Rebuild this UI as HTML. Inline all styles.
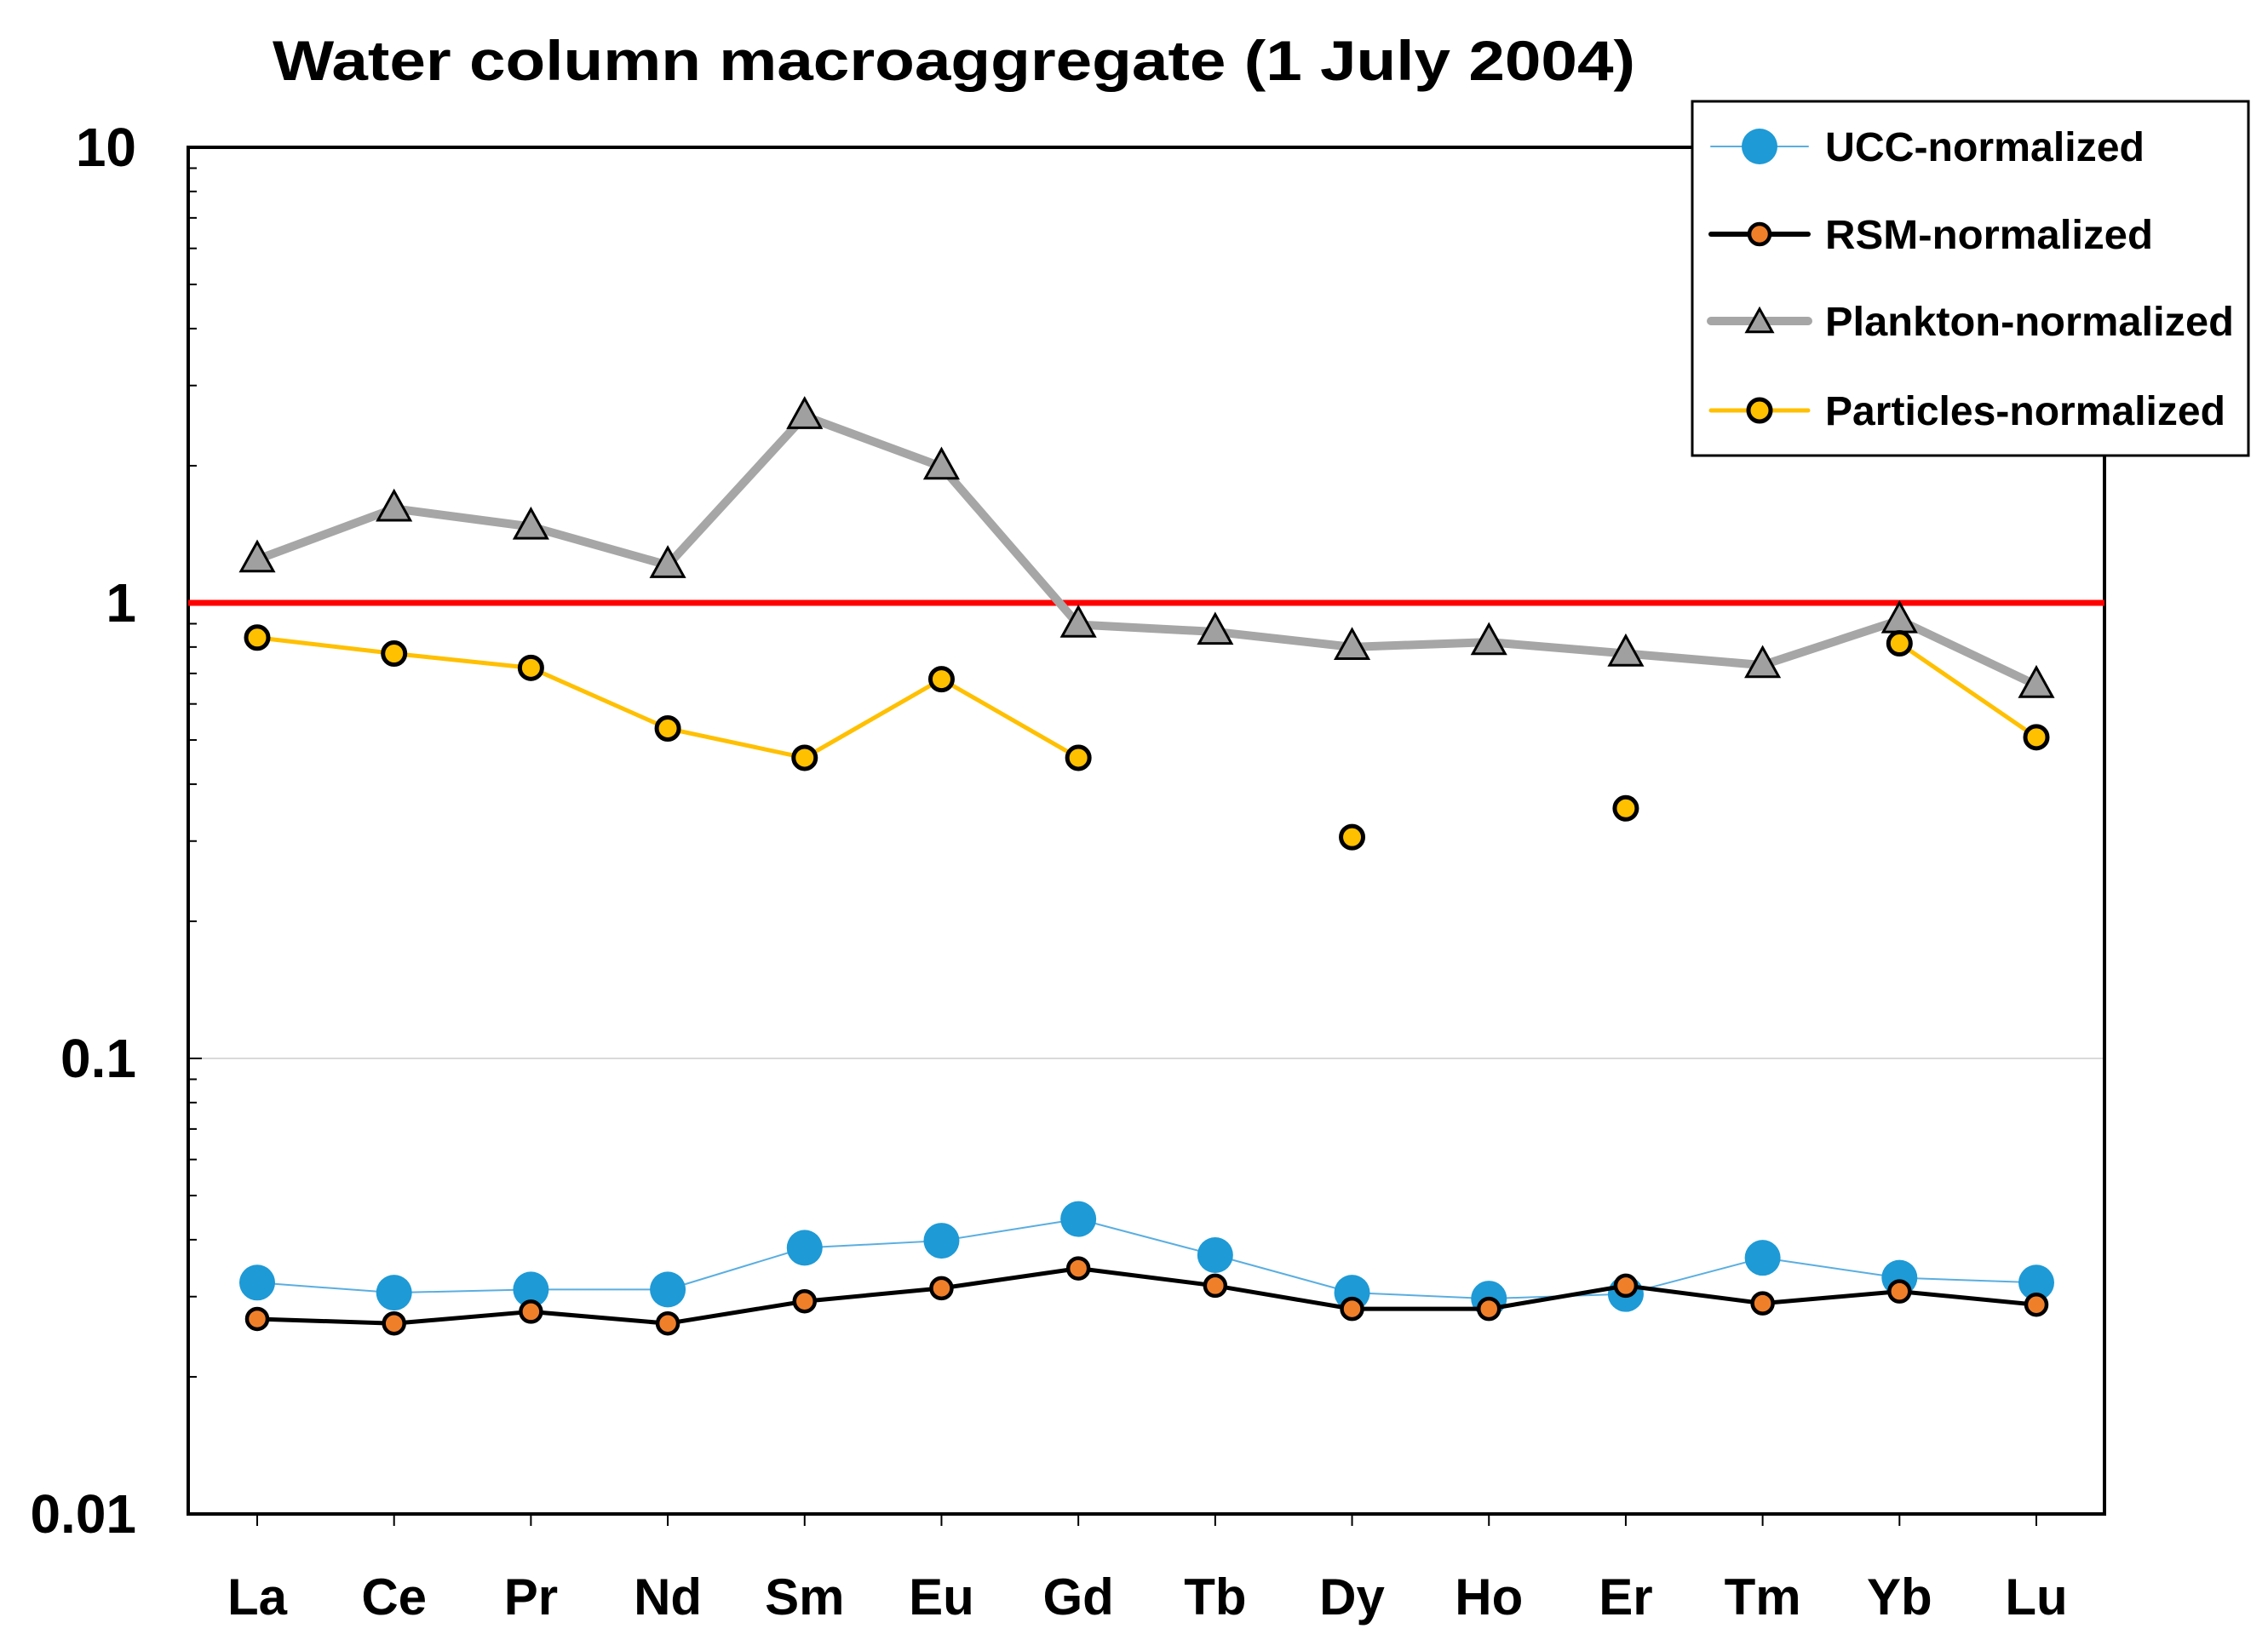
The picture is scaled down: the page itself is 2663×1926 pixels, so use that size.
<!DOCTYPE html>
<html><head><meta charset="utf-8"><style>
html,body{margin:0;padding:0;background:#fff}
svg{display:block;font-family:"Liberation Sans",sans-serif;font-weight:bold}
</style></head><body>
<svg id="chart" width="2663" height="1926" viewBox="0 0 2663 1926" xmlns="http://www.w3.org/2000/svg">
<text x="320" y="94" font-size="66" textLength="1600" lengthAdjust="spacingAndGlyphs">Water column macroaggregate   (1 July 2004)</text>
<g id="plot"></g>
<g id="legend">
<rect x="1987" y="119" width="653" height="416" fill="#fff" stroke="#000" stroke-width="3"/>
</g>
</svg>
<script>
const categories=["La","Ce","Pr","Nd","Sm","Eu","Gd","Tb","Dy","Ho","Er","Tm","Yb","Lu"];
const uccValues=[0.0322,0.0306,0.0311,0.0311,0.0384,0.0398,0.0444,0.037,0.0306,0.0297,0.0304,0.0365,0.033,0.0322];
const rsmValues=[0.0268,0.0262,0.0278,0.0262,0.0293,0.0313,0.0346,0.0317,0.0282,0.0282,0.0317,0.029,0.0308,0.0288];
const planktonValues=[1.245,1.61,1.47,1.21,2.57,1.99,0.896,0.864,0.80,0.82,0.774,0.73,0.916,0.66];
const particlesValues=[0.839,0.774,0.72,0.53,0.457,0.68,0.457,null,0.306,null,0.354,null,0.815,0.507];
const yTickValues=[10,1,0.1,0.01];
const yTickLabels=["10","1","0.1","0.01"];

const NS="http://www.w3.org/2000/svg";
const L=221,T=173,R=2471,B=1778;
const x0=302,xStep=(2391-302)/13;
function xs(i){return x0+i*xStep;}
function ys(v){return B-(Math.log10(v)+2)/3*(B-T);}
const plot=document.getElementById('plot');
function mk(tag,attrs,parent){const e=document.createElementNS(NS,tag);for(const k in attrs)e.setAttribute(k,attrs[k]);(parent||plot).appendChild(e);return e;}

let g=mk('line',{x1:L,x2:R,y1:ys(0.1),y2:ys(0.1),stroke:'#d9d9d9','stroke-width':2});


let fr=mk('rect',{x:L,y:T,width:R-L,height:B-T,fill:'none',stroke:'#000','stroke-width':4});


for(let d=-2;d<1;d++){for(let m=1;m<10;m++){const v=m*Math.pow(10,d);const y=ys(v);
 const t=mk('line',{x1:L,x2:L+(m==1?16:10),y1:y,y2:y,stroke:'#000','stroke-width':2});
 
 }}
yTickValues.forEach((v,i)=>{const t=mk('text',{x:160,y:ys(v)+22,'font-size':64,'text-anchor':'end'});t.textContent=yTickLabels[i];
 
 });
categories.forEach((c,i)=>{const t=mk('line',{x1:xs(i),x2:xs(i),y1:B,y2:B+14,stroke:'#000','stroke-width':2});
 
 
 const l=mk('text',{x:xs(i),y:1896,'font-size':60,'text-anchor':'middle'});l.textContent=c;
 
 });
let rl=mk('line',{x1:L,x2:R,y1:ys(1),y2:ys(1),stroke:'#ff0000','stroke-width':7});



function drawLine(vals,color,w,name){let seg=[];const segs=[];vals.forEach((v,i)=>{if(v==null){if(seg.length)segs.push(seg);seg=[];}else seg.push([xs(i),ys(v)]);});if(seg.length)segs.push(seg);
 segs.forEach(s=>{if(s.length<2)return;const p=mk('polyline',{points:s.map(q=>q.join(',')).join(' '),fill:'none',stroke:color,'stroke-width':w,'stroke-linejoin':'round'});
 
 });}
function circ(cx,cy,r,fill,stroke,sw,name,parent){const c=mk('circle',{cx:cx,cy:cy,r:r,fill:fill,stroke:stroke,'stroke-width':sw},parent);
 
 return c;}
function tri(cx,cy,s,name,parent){const h=s*0.9;const p=mk('polygon',{points:`${cx},${cy-h*0.6} ${cx-s/2},${cy+h*0.4} ${cx+s/2},${cy+h*0.4}`,fill:'#a0a0a0',stroke:'#000','stroke-width':3,'stroke-linejoin':'miter'},parent);
 
 }

drawLine(planktonValues,'#a6a6a6',10,'plankton');
planktonValues.forEach((v,i)=>{if(v!=null)tri(xs(i),ys(v),38,'plankton-point');});
drawLine(particlesValues,'#ffc000',5,'particles');
particlesValues.forEach((v,i)=>{if(v!=null)circ(xs(i),ys(v),13,'#ffc000','#000',5,'particles-point');});
drawLine(uccValues,'#5aaee0',2,'ucc');
uccValues.forEach((v,i)=>circ(xs(i),ys(v),21,'#1e9ad6','none',0,'ucc-point'));
drawLine(rsmValues,'#000',5,'rsm');
rsmValues.forEach((v,i)=>circ(xs(i),ys(v),12,'#f07f2a','#000',4.5,'rsm-point'));

const lg=document.getElementById('legend');
const entries=[["UCC-normalized",172],["RSM-normalized",275],["Plankton-normalized",377],["Particles-normalized",482]];
const lens=[375,385,480,470];
entries.forEach((e,i)=>{const y=e[1];
 const colors=['#5aaee0','#000','#a6a6a6','#ffc000'],ws=[2,6,10,5];
 const ln=mk('line',{x1:2009,x2:2123,y1:y,y2:y,stroke:colors[i],'stroke-width':ws[i],'stroke-linecap':'round'},lg);
 
 
 if(i==0)circ(2066,y,21,'#1e9ad6','none',0,'legend-marker',lg);
 if(i==1)circ(2066,y,12,'#f07f2a','#000',4.5,'legend-marker',lg);
 if(i==2)tri(2066,y+2,30,'legend-marker',lg);
 if(i==3)circ(2066,y,13,'#ffc000','#000',5,'legend-marker',lg);
 const t=mk('text',{x:2143,y:y+17,'font-size':48,textLength:lens[i],lengthAdjust:'spacingAndGlyphs'},lg);t.textContent=e[0];
 
 });
</script>
</body></html>
